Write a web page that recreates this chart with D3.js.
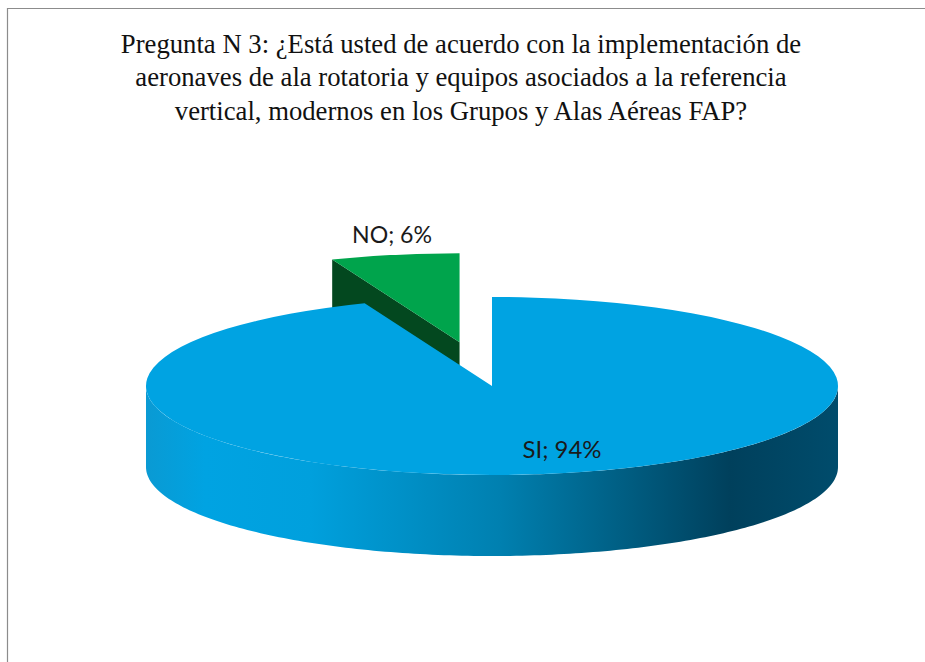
<!DOCTYPE html>
<html>
<head>
<meta charset="utf-8">
<script src="https://cdn.jsdelivr.net/npm/d3@7"></script>
<style>
  html, body { margin: 0; padding: 0; background: #fff; }
  svg { display: block; }
</style>
</head>
<body>
<svg></svg>
<script>
const categories = ['SI', 'NO'];
const values = [94, 6];
const titleLines = [
    'Pregunta N 3: ¿Está usted de acuerdo con la implementación de',
    'aeronaves de ala rotatoria y equipos asociados a la referencia',
    'vertical, modernos en los Grupos y Alas Aéreas FAP?'
];

const WIDTH = 925, HEIGHT = 662;
const CX = 492, CY = 386;   // centre of the pie's top face
const RX = 346, RY = 89;    // tilted pie is an ellipse
const DEPTH = 81;
const EXPLODE = 0.5;        // NO slice pulled out by half a radius

const topColor = { SI: '#00a3e2', NO: '#00a44c' };
const cutColor = '#03481f';

const svg = d3.select('svg').attr('width', WIDTH).attr('height', HEIGHT);

// gray frame, only top and left are inside the crop
svg.append('path')
    .attr('d', `M7.5,${HEIGHT}V8.5H${WIDTH}`)
    .attr('fill', 'none')
    .attr('stroke', '#8c8c8c')
    .attr('stroke-width', 1.2);

// title
svg.append('g').selectAll('text')
    .data(titleLines)
    .join('text')
    .attr('x', 461)
    .attr('y', (d, i) => 52.5 + i * 33.5)
    .attr('text-anchor', 'middle')
    .attr('font-family', '"Liberation Serif", serif')
    .attr('font-size', 26.7)
    .attr('fill', '#111')
    .text(d => d);

const slices = d3.pie().sort(null)(values);
const arc = d3.arc().innerRadius(0).outerRadius(RX);

// angle on the pie -> point on the tilted ellipse
const project = (a, r = 1) => [RX * r * Math.sin(a), -RY * r * Math.cos(a)];

// shading along the side wall
const defs = svg.append('defs');
const wallStops = [
    [146, '#0a9ad3'], [205, '#00a3e2'], [310, '#00a0dd'], [500, '#0080b0'],
    [620, '#005f84'], [730, '#00405c'], [838, '#004c6c']
];
const wallX = d3.scaleLinear().domain([CX - RX, CX + RX]).range([0, 100]);
defs.append('linearGradient')
    .attr('id', 'wall')
    .selectAll('stop')
    .data(wallStops)
    .join('stop')
    .attr('offset', d => wallX(d[0]) + '%')
    .attr('stop-color', d => d[1]);

// NO slice, moved away along its bisector
const no = slices[1];
const mid = (no.startAngle + no.endAngle) / 2;
const [ox, oy] = project(mid, EXPLODE);
const noG = svg.append('g').attr('transform', `translate(${CX + ox},${CY + oy})`);
const [ex, ey] = project(no.startAngle);

// the cut face seen under the slice's left edge
noG.append('path')
    .attr('d', d3.line()([[0, 0], [ex, ey], [ex, ey + DEPTH], [0, DEPTH]]))
    .attr('fill', cutColor);

noG.append('path')
    .attr('d', arc(no))
    .attr('transform', `scale(1,${RY / RX})`)
    .attr('fill', topColor[categories[1]]);

// SI slice: side wall first and then the top face
const front = d3.range(-90, 90.5, 1).map(t => t * Math.PI / 180 + Math.PI);
const lower = front.map(a => { const p = project(a); return [p[0], p[1] + DEPTH]; });
const upper = front.map(a => project(a)).reverse();
const siG = svg.append('g').attr('transform', `translate(${CX},${CY})`);

siG.append('path')
    .attr('d', d3.line()(lower.concat(upper)) + 'Z')
    .attr('fill', 'url(#wall)');

siG.append('path')
    .attr('d', arc(slices[0]))
    .attr('transform', `scale(1,${RY / RX})`)
    .attr('fill', topColor[categories[0]]);

// data labels
const labelPos = [[562, 458], [392, 243]];
svg.append('g').selectAll('text')
    .data(slices)
    .join('text')
    .attr('x', (d, i) => labelPos[i][0])
    .attr('y', (d, i) => labelPos[i][1])
    .attr('text-anchor', 'middle')
    .attr('font-family', 'Lato, sans-serif')
    .attr('font-size', 24)
    .attr('textLength', (d, i) => i === 0 ? 79 : 80)
    .attr('lengthAdjust', 'spacingAndGlyphs')
    .attr('fill', '#1a1a1a')
    .text((d, i) => `${categories[i]}; ${d.value}%`);
</script>
</body>
</html>
